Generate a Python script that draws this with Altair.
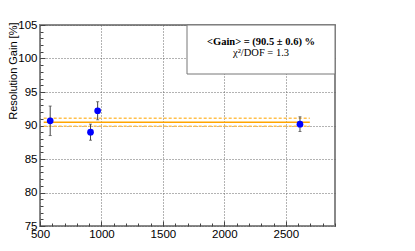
import altair as alt
import pandas as pd

# --- data ---
energy = [583, 911, 969, 2615]
gain = [90.7, 89.0, 92.2, 90.2]
gain_err = [2.2, 1.2, 1.35, 1.1]
fit_mean = 90.5
fit_err = 0.6
fit_range = [530, 2695]
chi2_dof = 1.3
x_major = [500, 1000, 1500, 2000, 2500]
y_major = [75, 80, 85, 90, 95, 100, 105]
x_minor = list(range(500, 2901, 100))
y_minor = list(range(75, 106))
x_domain = [500, 2900]
y_domain = [75, 105]

df = pd.DataFrame({
    "E": energy,
    "G": gain,
    "lo": [g - e for g, e in zip(gain, gain_err)],
    "hi": [g + e for g, e in zip(gain, gain_err)],
})
fit_df = pd.DataFrame({
    "x": [fit_range[0]], "x2": [fit_range[1]],
    "m": [fit_mean], "lo": [fit_mean - fit_err], "hi": [fit_mean + fit_err],
})
box_df = pd.DataFrame({
    "l1": [f"<Gain> = ({fit_mean} \u00b1 {fit_err}) %"],
    "l2": [f"\u03c7\u00b2/DOF = {chi2_dof}"],
})

SANS = "Liberation Sans"
SERIF = "Liberation Serif"
xs = alt.Scale(domain=x_domain, nice=False, zero=False)
ys = alt.Scale(domain=y_domain, nice=False, zero=False)

x_main = alt.Axis(orient="bottom", values=x_major, format="d", grid=True, gridColor="#666",
                  gridDash=[1, 2], gridWidth=1, ticks=False, domain=False,
                  labelFont=SANS, labelFontSize=11.5, labelColor="#000",
                  labelPadding=2, labelFlush=False, title="Energy [keV]",
                  titleFont=SANS, titleFontSize=11.5,
                  titleFontWeight="normal", titleColor="#000",
                  titleX=297, titleY=24, titleAlign="right", titleBaseline="alphabetic",
                  titleAnchor="end")
y_main = alt.Axis(orient="left", values=y_major, format="d", grid=True, gridColor="#666",
                  gridDash=[1, 2], gridWidth=1, ticks=False, domain=False,
                  labelFont=SANS, labelFontSize=11.5, labelColor="#000",
                  labelPadding=3, labelFlush=False, title="Resolution Gain [%]",
                  titleFont=SANS, titleFontSize=11,
                  titleFontWeight="normal", titleColor="#000",
                  titleX=-27, titleY=-3, titleAngle=270, titleAlign="right",
                  titleBaseline="middle", titleAnchor="end")
x_maj_t = alt.Axis(orient="bottom", values=x_major, grid=False, ticks=True,
                   tickSize=5, tickColor="#444", labels=False, domain=False,
                   offset=-5, title=None)
y_maj_t = alt.Axis(orient="left", values=y_major, grid=False, ticks=True,
                   tickSize=5, tickColor="#444", labels=False, domain=False,
                   offset=-5, title=None)
x_min_t = alt.Axis(orient="bottom", values=x_minor, grid=False, ticks=True,
                   tickSize=3, tickColor="#444", labels=False, domain=False,
                   offset=-3, title=None)
y_min_t = alt.Axis(orient="left", values=y_minor, grid=False, ticks=True,
                   tickSize=3, tickColor="#444", labels=False, domain=False,
                   offset=-3, title=None)

base = alt.Chart(df)

errbars = base.mark_rule(color="#444", strokeWidth=1).encode(
    x=alt.X("E:Q", scale=xs, axis=x_maj_t),
    y=alt.Y("lo:Q", scale=ys, axis=y_maj_t),
    y2="hi:Q",
)
caps_lo = base.mark_tick(color="#444", orient="horizontal", size=3, thickness=1).encode(
    x=alt.X("E:Q", scale=xs, axis=None), y=alt.Y("lo:Q", scale=ys, axis=None))
caps_hi = base.mark_tick(color="#444", orient="horizontal", size=3, thickness=1).encode(
    x=alt.X("E:Q", scale=xs, axis=None), y=alt.Y("hi:Q", scale=ys, axis=None))

fit = alt.Chart(fit_df).mark_rule(color="#ffa500", strokeWidth=1.5).encode(
    x=alt.X("x:Q", scale=xs, axis=x_min_t), x2="x2:Q",
    y=alt.Y("m:Q", scale=ys, axis=y_min_t),
)
band_hi = alt.Chart(fit_df).mark_rule(color="#ffc04d", strokeWidth=1.5,
                                      strokeDash=[3, 2]).encode(
    x=alt.X("x:Q", scale=xs, axis=None), x2="x2:Q",
    y=alt.Y("hi:Q", scale=ys, axis=None),
)
band_lo = alt.Chart(fit_df).mark_rule(color="#ffc04d", strokeWidth=1.5,
                                      strokeDash=[3, 2]).encode(
    x=alt.X("x:Q", scale=xs, axis=None), x2="x2:Q",
    y=alt.Y("lo:Q", scale=ys, axis=None),
)

points = base.mark_circle(color="#0000ff", opacity=1, size=45).encode(
    x=alt.X("E:Q", scale=xs, axis=x_main),
    y=alt.Y("G:Q", scale=ys, axis=y_main),
)

box = alt.Chart(box_df).mark_rect(fill="white", stroke="#777", strokeWidth=1).encode(
    x=alt.value(147), x2=alt.value(295), y=alt.value(0), y2=alt.value(49))
txt1 = alt.Chart(box_df).mark_text(font=SERIF, fontSize=10.5, fontWeight="bold",
                                   baseline="middle", align="center").encode(
    text="l1:N", x=alt.value(221), y=alt.value(17))
txt2 = alt.Chart(box_df).mark_text(font=SERIF, fontSize=10.5, baseline="middle",
                                   align="center").encode(
    text="l2:N", x=alt.value(221), y=alt.value(28))

chart = alt.layer(
    fit, band_hi, band_lo, errbars, caps_lo, caps_hi, points, box, txt1, txt2
).resolve_axis(x="independent", y="independent").properties(
    width=295, height=201,
    autosize=alt.AutoSizeParams(type="none"),
    padding={"left": 32, "top": 17, "right": 72, "bottom": 17},
).configure_view(stroke="#888", strokeWidth=2)

chart.save("out.html", embed_options={"renderer": "svg", "actions": False})
